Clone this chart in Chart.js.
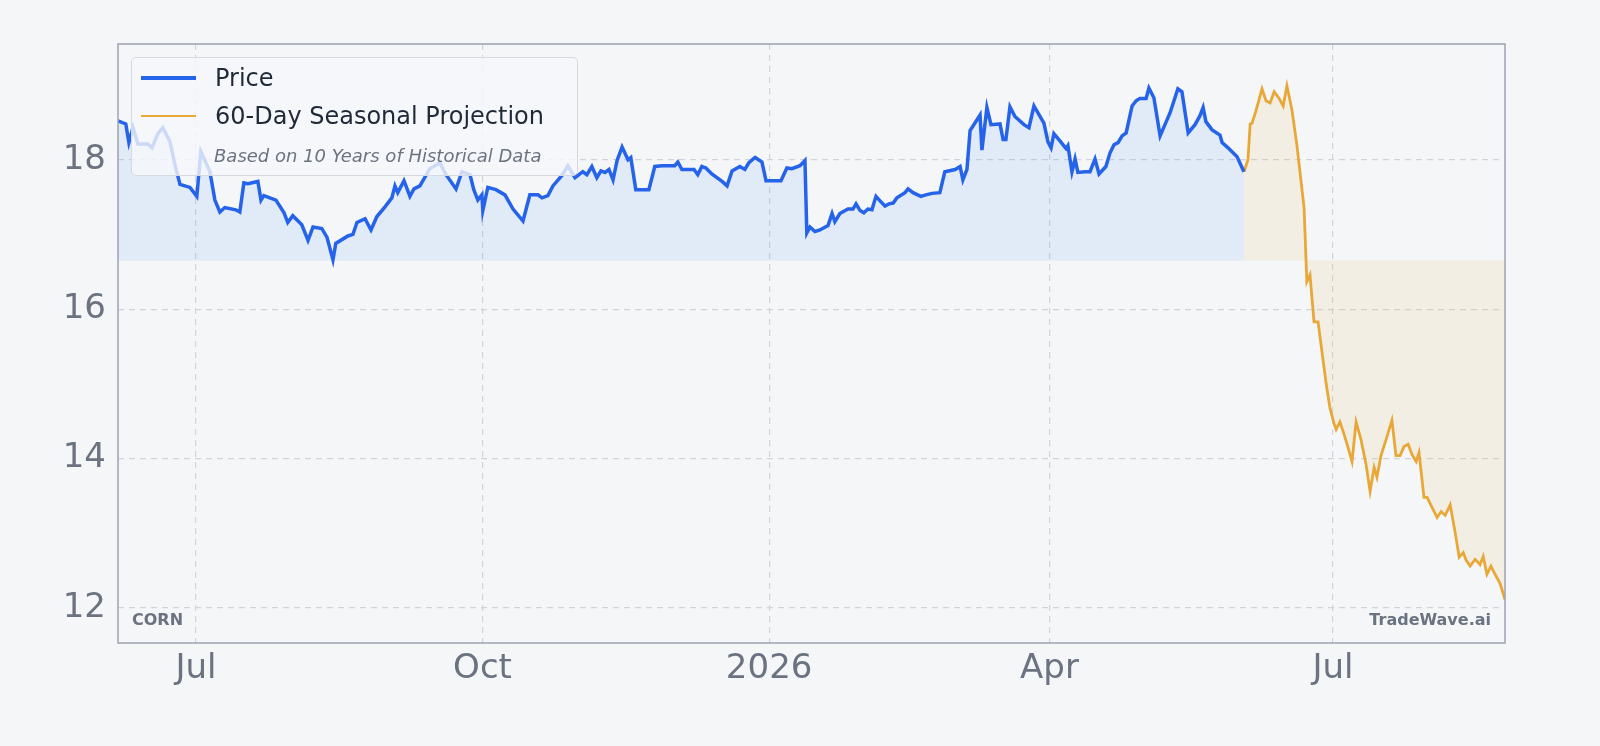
<!DOCTYPE html>
<html>
<head>
<meta charset="utf-8">
<script src="https://cdn.jsdelivr.net/npm/chart.js@4"></script>
<style>
  body { margin: 0; background: #f4f6f8; }
  #wrap { position: relative; width: 1600px; height: 746px; }
  #legend {
    position: absolute; left: 131px; top: 57px; width: 445px; height: 117px;
    background: rgba(246,248,250,0.8); border: 1px solid #d5dae0; border-radius: 5px;
    font-family: "DejaVu Sans", sans-serif; color: #1f2937;
  }
  .row { position: absolute; left: 9px; display: flex; align-items: center; font-size: 24px; }
  .sw { width: 55px; height: 3px; margin-right: 19px; }
  #sub { position: absolute; left: 82px; top: 87px; font-size: 18px; font-style: italic; color: #6b7280; }
</style>
</head>
<body>
<div id="wrap">
  <canvas id="chart" width="1600" height="746"></canvas>
  <div id="legend">
    <div class="row" style="top:6px"><div class="sw" style="background:#2563eb;height:3.5px"></div>Price</div>
    <div class="row" style="top:44px"><div class="sw" style="background:#e8a838;height:2.5px"></div>60-Day Seasonal Projection</div>
    <div id="sub">Based on 10 Years of Historical Data</div>
  </div>
</div>
<script>
// x = days since 2025-07-01
const priceDays = [-25.0,-22.5,-21.5,-20.2,-18.6,-15.4,-14.1,-12.2,-10.6,-8.3,-6.7,-5.1,-1.9,0.3,1.6,4.5,6.1,7.7,9.3,12.8,14.1,15.4,16.7,19.9,20.9,21.8,25.7,28.3,29.5,31.1,34.0,36.0,37.6,40.4,42.1,44.0,44.9,48.8,50.4,51.7,54.3,56.2,58.1,60.7,62.9,63.9,64.8,66.8,68.7,70.0,71.9,75.1,78.3,80.3,83.5,85.4,88.0,89.2,90.5,91.8,92.1,93.7,96.3,99.2,101.8,105.0,107.2,109.8,111.1,113.0,114.6,117.5,119.4,121.7,124.2,125.5,127.1,128.7,130.0,131.3,132.6,133.9,135.2,136.8,138.7,139.6,141.2,145.4,147.3,149.6,153.7,154.7,156.0,159.9,161.1,162.4,163.7,165.6,168.9,170.5,172.1,174.6,176.2,177.5,179.5,181.7,183.0,187.8,189.7,191.3,193.9,195.5,196.1,197.1,198.7,200.3,202.9,204.2,205.1,206.7,209.3,210.9,211.9,213.2,214.4,215.7,217.0,218.3,219.6,221.2,222.5,223.8,225.0,227.6,228.6,230.2,232.7,234.3,236.3,238.8,240.4,243.7,245.3,246.2,247.5,248.5,251.7,252.3,253.9,255.2,258.1,259.1,260.0,261.3,262.9,265.8,267.4,269.0,272.2,273.5,274.5,275.4,277.4,279.3,279.9,281.2,282.2,283.1,285.4,287.0,288.6,289.9,292.1,293.4,294.7,296.0,297.3,298.6,300.5,301.8,303.0,305.0,305.9,307.5,309.5,312.7,315.2,316.5,318.5,320.7,322.3,323.3,324.2,326.2,328.7,329.4,331.3,334.2,336.4];
const priceVals = [18.52,18.48,18.23,18.43,18.21,18.21,18.16,18.35,18.43,18.24,17.93,17.67,17.63,17.51,18.11,17.84,17.46,17.30,17.36,17.33,17.30,17.69,17.68,17.71,17.46,17.52,17.46,17.29,17.16,17.25,17.13,16.92,17.10,17.08,16.96,16.66,16.88,16.98,17.00,17.16,17.21,17.06,17.24,17.37,17.49,17.65,17.56,17.72,17.51,17.61,17.65,17.88,17.96,17.80,17.61,17.84,17.80,17.60,17.46,17.53,17.32,17.63,17.60,17.53,17.34,17.18,17.53,17.53,17.49,17.52,17.65,17.79,17.92,17.76,17.84,17.80,17.91,17.76,17.85,17.83,17.87,17.73,17.99,18.17,18.00,18.03,17.60,17.60,17.91,17.92,17.92,17.97,17.87,17.87,17.80,17.91,17.89,17.81,17.71,17.65,17.85,17.91,17.87,17.96,18.03,17.97,17.72,17.72,17.89,17.88,17.92,17.99,17.02,17.10,17.04,17.06,17.12,17.28,17.17,17.28,17.34,17.34,17.41,17.32,17.29,17.34,17.33,17.51,17.45,17.38,17.41,17.42,17.49,17.56,17.61,17.56,17.51,17.53,17.55,17.56,17.84,17.87,17.91,17.73,17.87,18.39,18.60,18.13,18.70,18.47,18.48,18.27,18.27,18.71,18.58,18.47,18.43,18.72,18.49,18.24,18.16,18.35,18.25,18.15,18.19,17.84,18.01,17.83,17.84,17.84,18.01,17.81,17.91,18.09,18.20,18.23,18.32,18.36,18.72,18.79,18.82,18.82,18.96,18.83,18.32,18.63,18.95,18.91,18.36,18.47,18.59,18.70,18.51,18.40,18.33,18.23,18.16,18.04,17.84];
const projDays = [336.4,337.7,338.4,339.0,340.3,342.2,343.5,344.8,346.1,347.7,349.0,350.2,351.8,353.4,355.7,356.6,357.6,358.9,360.2,362.8,364.0,365.3,366.0,367.2,368.5,369.8,371.1,372.4,374.0,375.6,376.9,378.2,379.1,380.4,382.0,383.9,385.2,386.5,387.8,389.1,390.4,391.7,392.6,394.2,395.2,397.1,398.4,399.7,401.0,402.6,404.2,405.5,406.8,407.7,409.0,410.6,412.2,413.2,414.4,415.7,417.0,418.6,420.2];
const projVals = [17.84,18.00,18.48,18.49,18.66,18.95,18.79,18.76,18.91,18.82,18.72,18.99,18.67,18.20,17.36,16.37,16.46,15.83,15.83,15.00,14.68,14.47,14.39,14.49,14.33,14.15,13.96,14.49,14.25,13.92,13.56,13.88,13.75,14.04,14.25,14.51,14.04,14.04,14.16,14.19,14.05,13.96,14.08,13.48,13.48,13.32,13.21,13.29,13.24,13.38,13.01,12.68,12.74,12.64,12.56,12.65,12.58,12.69,12.45,12.56,12.45,12.33,12.11];
const fillBase = 16.65;
const xTickDays = [0, 92, 184, 274, 365];
const xTickLabels = ["Jul", "Oct", "2026", "Apr", "Jul"];
const yTicks = [12, 14, 16, 18];

const extras = {
  id: "extras",
  afterDraw(c) {
    const { ctx, chartArea: a } = c;
    ctx.save();
    ctx.strokeStyle = "#9ca3af";
    ctx.lineWidth = 1.5;
    ctx.strokeRect(a.left, a.top, a.right - a.left, a.bottom - a.top);
    ctx.fillStyle = "#6b7280";
    ctx.font = "bold 16px 'DejaVu Sans'";
    ctx.textBaseline = "middle";
    ctx.textAlign = "left";
    ctx.fillText("CORN", a.left + 14, a.bottom - 22);
    ctx.textAlign = "right";
    ctx.fillText("TradeWave.ai", a.right - 14, a.bottom - 22);
    ctx.restore();
  }
};

new Chart(document.getElementById("chart"), {
  type: "line",
  data: {
    datasets: [
      {
        label: "Price",
        data: priceDays.map((d, i) => ({ x: d, y: priceVals[i] })),
        borderColor: "#2563eb",
        borderWidth: 3.5,
        backgroundColor: "rgba(59,130,246,0.1)",
        fill: { value: fillBase },
        pointRadius: 0,
        tension: 0,
      },
      {
        label: "60-Day Seasonal Projection",
        data: projDays.map((d, i) => ({ x: d, y: projVals[i] })),
        borderColor: "#e8a838",
        borderWidth: 2.8,
        backgroundColor: "rgba(232,168,56,0.1)",
        fill: { value: fillBase },
        pointRadius: 0,
        tension: 0,
      },
    ],
  },
  options: {
    responsive: false,
    animation: false,
    layout: { padding: { top: 44, right: 95 } },
    plugins: { legend: { display: false }, tooltip: { enabled: false } },
    scales: {
      x: {
        type: "linear",
        min: -25,
        max: 420.2,
        afterFit: (s) => { s.height = 103; },
        afterBuildTicks: (s) => { s.ticks = xTickDays.map((v) => ({ value: v })); },
        ticks: {
          color: "#6b7280",
          font: { family: "DejaVu Sans", size: 34 },
          padding: 6,
          maxRotation: 0,
          callback: (v) => xTickLabels[xTickDays.indexOf(v)],
        },
        grid: { color: "#d1d5db", lineWidth: 1.2, drawTicks: false },
        border: { display: false, dash: [6, 5] },
      },
      y: {
        min: 11.53,
        max: 19.55,
        afterFit: (s) => { s.width = 118; },
        afterBuildTicks: (s) => { s.ticks = yTicks.map((v) => ({ value: v })); },
        ticks: {
          color: "#6b7280",
          font: { family: "DejaVu Sans", size: 34 },
          padding: 12,
        },
        grid: { color: "#d1d5db", lineWidth: 1.2, drawTicks: false },
        border: { display: false, dash: [6, 5] },
      },
    },
  },
  plugins: [extras],
});
</script>
</body>
</html>
